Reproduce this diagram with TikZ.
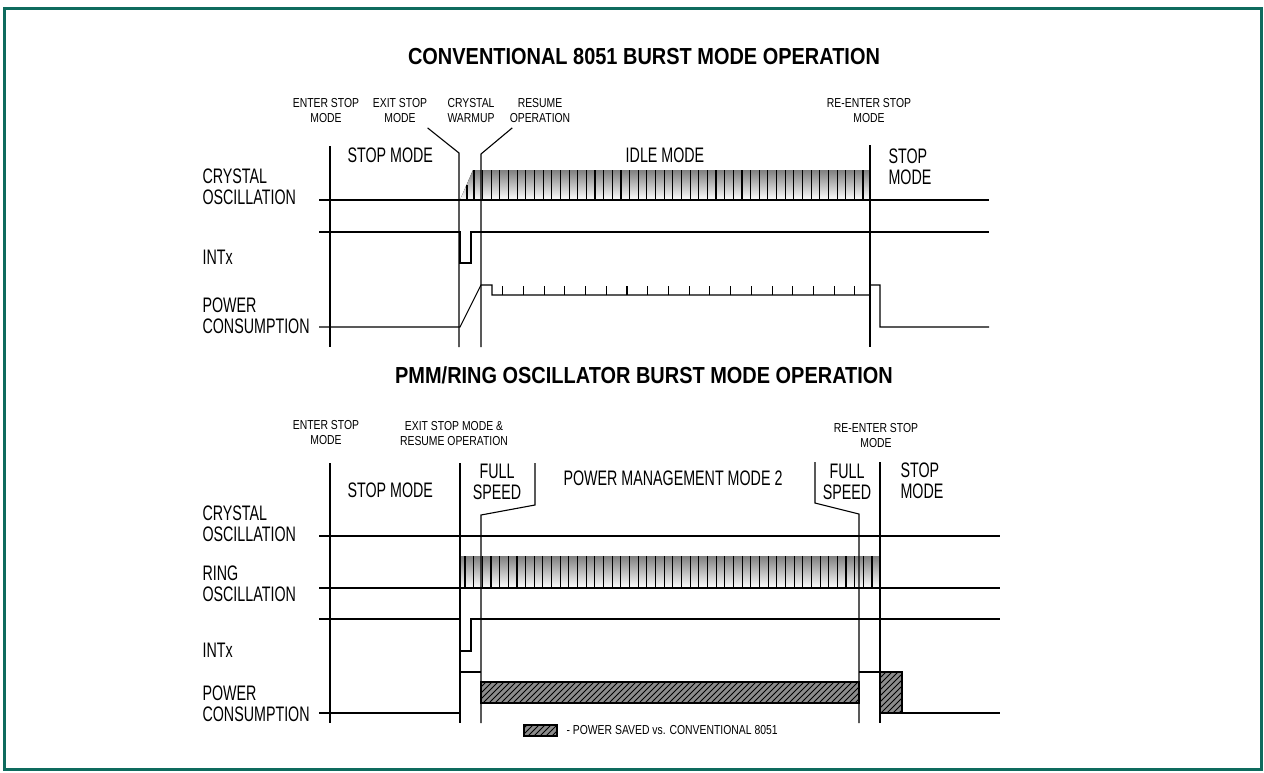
\documentclass[tikz,border=0pt]{standalone}
\usepackage{fontspec}
\setmainfont{Liberation Sans}
\newfontfamily\labelfont{Liberation Sans}[FakeStretch=0.68]
\newfontfamily\notefont{Liberation Sans}[FakeStretch=0.80]
\newfontfamily\headfont{Liberation Sans}[FakeStretch=0.86]
\usetikzlibrary{patterns}
\definecolor{frame}{HTML}{0E6B5E}
\definecolor{shade}{HTML}{EFEFEF}
\definecolor{saved}{HTML}{8C8C8C}

\begin{document}
\begin{tikzpicture}[x=0.5pt,y=-0.5pt,line width=0.55pt,
  head/.style={font=\headfont\bfseries\fontsize{11.6}{12}\selectfont,inner sep=0,anchor=north},
  note/.style={font=\notefont\fontsize{6.5}{7.3}\selectfont,align=center,inner sep=0,anchor=north},
  lbl/.style={font=\labelfont\fontsize{10.5}{10.5}\selectfont,align=left,inner sep=0,anchor=north west},
  mode/.style={font=\labelfont\fontsize{10.5}{10.5}\selectfont,align=center,inner sep=0,anchor=north},
  savedbox/.style={preaction={fill=saved},pattern=north east lines,draw}]
  \useasboundingbox (0,0) rectangle (1264,772);
  \draw[frame,line width=1.6pt] (4.5,8.5) rectangle (1261.5,769.5);

  % conventional 8051
  \node[head] (title1) at (644,48) {CONVENTIONAL 8051 BURST MODE OPERATION};
  \node[note] (enter1) at (326,98) {ENTER STOP\\MODE};
  \node[note] (exit1) at (400,98) {EXIT STOP\\MODE};
  \node[note] (warm1) at (471,98) {CRYSTAL\\WARMUP};
  \node[note] (resume1) at (540,98) {RESUME\\OPERATION};
  \node[note] (reenter1) at (869,98) {RE-ENTER STOP\\MODE};
  \node[mode,anchor=north west] (stop1) at (347,147) {STOP MODE};
  \node[mode] (idle1) at (665,147) {IDLE MODE};
  \node[mode,anchor=north west,align=left] (stop2) at (888,148) {STOP\\MODE};
  \node[lbl] (xtal1) at (202,168) {CRYSTAL\\OSCILLATION};
  \node[lbl] (int1) at (202,249) {INTx};
  \node[lbl] (pwr1) at (202,297) {POWER\\CONSUMPTION};

  \fill[shade] (460,200) -- (473,170) -- (870,170) -- (870,200) -- cycle;
  \draw (467,185) -- (467,200);
  \foreach \i in {0,...,45}{\draw ({474+8.644*\i},170) -- ++(0,30);}
  \draw (319,200) -- (989,200);
  \draw (319,232) -- (460,232) -- (460,263) -- (471,263) -- (471,232) -- (989,232);
  \draw (319,327) -- (460,327) -- (481,285) -- (492,285) -- (492,295) -- (870,295)
    -- (870,285) -- (880,285) -- (880,327) -- (989,327);
  \foreach \i in {0,...,17}{\draw ({502.7+20.72*\i},295) -- ++(0,-9);}

  \draw (330,146) -- (330,347);
  \draw (exit1.south east) ++(0,5) -- (459,153) -- (459,347);
  \draw (resume1.south west) ++(3,5) -- (481,154) -- (481,347);
  \draw (870,145) -- (870,347);

  % pmm / ring oscillator
  \node[head] (title2) at (644,366) {PMM/RING OSCILLATOR BURST MODE OPERATION};
  \node[note] (enter2) at (326,420) {ENTER STOP\\MODE};
  \node[note] (exit2) at (454,421) {EXIT STOP MODE \&\\RESUME OPERATION};
  \node[note] (reenter2) at (876,423) {RE-ENTER STOP\\MODE};
  \node[mode,anchor=north west] (stop3) at (347,482) {STOP MODE};
  \node[mode] (full1) at (497,463) {FULL\\SPEED};
  \node[mode] (pmm2) at (673,470) {POWER MANAGEMENT MODE 2};
  \node[mode] (full2) at (847,463) {FULL\\SPEED};
  \node[mode,anchor=north west,align=left] (stop4) at (900,462) {STOP\\MODE};
  \node[lbl] (xtal2) at (202,505) {CRYSTAL\\OSCILLATION};
  \node[lbl] (ring2) at (202,565) {RING\\OSCILLATION};
  \node[lbl] (int2) at (202,642) {INTx};
  \node[lbl] (pwr2) at (202,685) {POWER\\CONSUMPTION};

  \fill[shade] (460,556) rectangle (880,588);
  \foreach \i in {0,...,47}{\draw ({465+8.66*\i},556) -- ++(0,32);}
  \draw (319,536) -- (1000,536);
  \draw (319,588) -- (1000,588);
  \draw (319,619) -- (460,619) -- (460,651) -- (471,651) -- (471,619) -- (1000,619);
  \draw[savedbox] (481,682) rectangle (859,703);
  \draw[line width=1.1pt] (481,703) -- (859,703);
  \draw[savedbox] (880,672) rectangle (902,713);
  \draw (319,713) -- (460,713) -- (460,672) -- (481,672);
  \draw (859,672) -- (880,672);
  \draw (880,713) -- (1000,713);

  \draw (330,463) -- (330,723);
  \draw (460,463) -- (460,723);
  \draw (535,463) -- (535,505) -- (481,515) -- (481,723);
  \draw (815,462) -- (815,503) -- (859,514) -- (859,723);
  \draw (880,462) -- (880,723);

  \draw[savedbox] (524,725) rectangle (557,736);
  \node[note,anchor=west] (key) at (566,730.5) {- POWER SAVED vs. CONVENTIONAL 8051};
\end{tikzpicture}
\end{document}
